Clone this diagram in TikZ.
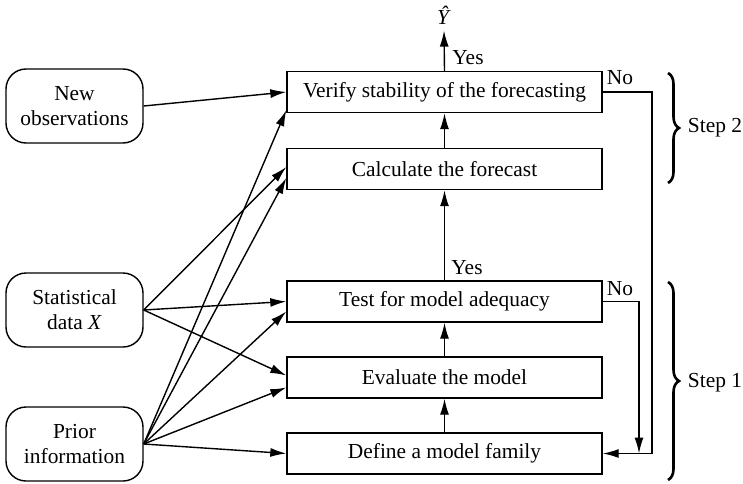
\documentclass[tikz,border=0pt]{standalone}
\usepackage{fontspec}
\setmainfont{Liberation Serif}
\usetikzlibrary{arrows.meta,decorations.pathreplacing,calc}

\begin{document}
\begin{tikzpicture}[x=0.5pt,y=0.5pt,font=\fontsize{10.7}{12.5}\selectfont]
\tikzset{stepbox/.style={draw,line width=0.7pt,minimum width=157.5pt,minimum height=20.5pt,inner sep=0pt},
 inbox/.style={draw,line width=0.7pt,rounded corners=10pt,minimum width=68.5pt,minimum height=37pt,align=center,inner sep=0pt},
 arr/.style={line width=0.7pt,-{Latex[length=8pt,width=4.5pt]}},
 stepbrace/.style={decorate,decoration={brace,amplitude=5.5pt},line width=1.3pt}}
\useasboundingbox (0,0) rectangle (743,483);
% the process boxes
\foreach \n/\y/\t in {verify/391/Verify stability of the forecasting,
  calc/314/Calculate the forecast, test/181.5/Test for model adequacy,
  eval/105.5/Evaluate the model, define/29.5/Define a model family} {
\node[stepbox] (\n) at (444.5,\y) {\t};
}
% the inputs
\node[inbox] (newobs) at (74.5,377) {New\\observations};
\node[inbox] (stat) at (74.5,173) {Statistical\\data \textit{X}};
\node[inbox] (prior) at (74.5,39) {Prior\\information};
\node[inner sep=1pt] (yhat) at (444,468) {\textit{\^{Y}}};
% main flow
\draw[arr] (verify.north) -- ([yshift=-2pt]yhat.south);
\draw[arr] (test.north) -- (calc.south);
\draw[arr] (define.north) -- (eval.south);
\draw[arr] (eval.north) -- (test.south);
\draw[arr] (calc.north) -- (verify.south);
\node (yes1) at (468,425) {Yes};
\node (yes2) at (467,215) {Yes};
% inputs to the boxes
\draw[arr] (newobs.east) -- (verify.west);
\draw[arr] (stat.east) -- ([yshift=1pt]calc.west);
\draw[arr] (stat.east) -- (test.west);
\draw[arr] (stat.east) -- ([yshift=1pt]eval.west);
\draw[arr] (prior.east) -- ([yshift=1.5pt]verify.south west);
\draw[arr] (prior.east) -- ([yshift=-4.5pt]calc.west);
\draw[arr] (prior.east) -- ([yshift=-5pt]test.west);
\draw[arr] (prior.east) -- ([yshift=-5pt]eval.west);
\draw[arr] (prior.east) -- (define.west);
% feedback
\coordinate (outer) at (652,29.5);
\coordinate (inner) at (639,29.5);
\draw[arr] (verify.east) -| (outer) -- (define.east);
\draw[arr] (test.east) -| (inner);
\node (no1) at (620,405) {No};
\node (no2) at (620,194) {No};
% steps
\draw[stepbrace] (668,410) -- (668,300);
\draw[stepbrace] (668,201) -- (668,3);
\node (step2) at (715,355) {Step 2};
\node (step1) at (715,100) {Step 1};
\end{tikzpicture}
\end{document}
